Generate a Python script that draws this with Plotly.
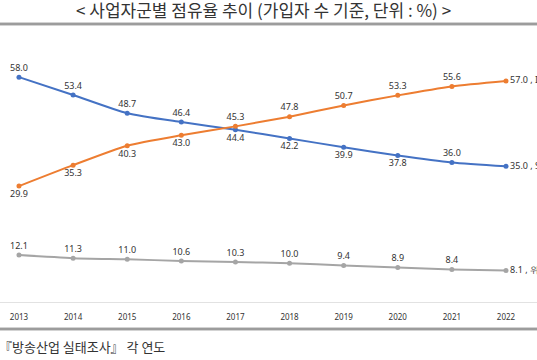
import plotly.graph_objects as go

years = [2013, 2014, 2015, 2016, 2017, 2018, 2019, 2020, 2021, 2022]
so = [58.0, 53.4, 48.7, 46.4, 44.4, 42.2, 39.9, 37.8, 36.0, 35.0]
iptv = [29.9, 35.3, 40.3, 43.0, 45.3, 47.8, 50.7, 53.3, 55.6, 57.0]
sat = [12.1, 11.3, 11.0, 10.6, 10.3, 10.0, 9.4, 8.9, 8.4, 8.1]
names = ["SO", "IPTV", "위성방송"]

title = "< 사업자군별 점유율 추이 (가입자 수 기준, 단위 : %) >"
source = "『방송산업 실태조사』 각 연도"

# page geometry (pixels from the top of the 360 px page)
H = 360
BASE_PX = 302          # where the value 0 sits
PX_PER_UNIT = 3.877
RULE_TOP_PX, RULE_BOTTOM_PX = 24, 329
X_RANGE = [2012.649, 2022.573]
Y_RANGE = [-(H - BASE_PX) / PX_PER_UNIT, BASE_PX / PX_PER_UNIT]


def px_to_y(px):
    return (BASE_PX - px) / PX_PER_UNIT


def labels(vals, name):
    t = [f"{v:.1f}" for v in vals]
    t[-1] = f"{vals[-1]:.1f} , {name}"
    return t


so_pos = ["top center", "top center", "top center", "top center", "bottom center",
          "bottom center", "bottom center", "bottom center", "top center", "middle right"]
iptv_pos = ["bottom center", "bottom center", "bottom center", "bottom center", "top center",
            "top center", "top center", "top center", "top center", "middle right"]
sat_pos = ["top center"] * 9 + ["middle right"]

fig = go.Figure()

# decorative page rules above and below the chart
for px in (RULE_TOP_PX, RULE_BOTTOM_PX):
    fig.add_trace(go.Scatter(
        x=X_RANGE, y=[px_to_y(px)] * 2, mode="lines", cliponaxis=False,
        line=dict(color="#9C9C9C", width=2.5), hoverinfo="skip", showlegend=False,
    ))

series = [(so, "#4472C4", so_pos, names[0]), (iptv, "#ED7D31", iptv_pos, names[1]),
          (sat, "#A5A5A5", sat_pos, names[2])]
for vals, color, pos, name in series:
    fig.add_trace(go.Scatter(
        x=years, y=vals, mode="lines+markers+text", name=name,
        line=dict(color=color, width=2, shape="spline", smoothing=0.6),
        marker=dict(color=color, size=5),
        text=labels(vals, name), textposition=pos,
        textfont=dict(family="Noto Sans", size=9, color="#333333"),
        cliponaxis=False, showlegend=False, hoverinfo="skip",
    ))

fig.update_layout(
    width=537, height=H,
    margin=dict(l=0, r=0, t=0, b=0),
    paper_bgcolor="white", plot_bgcolor="white",
    hovermode=False,
    xaxis=dict(range=X_RANGE, tickvals=years, ticktext=[str(y) for y in years],
               showgrid=False, zeroline=False, showline=False,
               anchor="free", position=(H - BASE_PX) / H,
               ticks="outside", ticklen=7, tickcolor="rgba(0,0,0,0)",
               tickfont=dict(family="Noto Sans", size=8, color="#333333")),
    yaxis=dict(range=Y_RANGE, domain=[0, 1], showgrid=False,
               zeroline=True, zerolinecolor="#E2E2E2", zerolinewidth=1,
               showticklabels=False),
    shapes=[
        dict(type="line", xref="paper", yref="paper", x0=0, x1=1,
             y0=(H - px) / H, y1=(H - px) / H, line=dict(color="#9C9C9C", width=2.5))
        for px in (RULE_TOP_PX, RULE_BOTTOM_PX)
    ],
    annotations=[
        dict(text=title, xref="paper", yref="paper", x=0.49, y=(H - 9) / H, showarrow=False,
             xanchor="center", yanchor="middle",
             font=dict(family="Noto Sans CJK KR", size=17, color="#333333")),
        dict(text=source, xref="paper", yref="paper", x=-0.005, y=(H - 346) / H,
             showarrow=False, xanchor="left", yanchor="middle",
             font=dict(family="Noto Sans CJK KR", size=13, color="#333333")),
    ],
)

fig.write_html("out.html", config={"displayModeBar": False, "staticPlot": True},
               post_script="document.body.style.margin='0';")
